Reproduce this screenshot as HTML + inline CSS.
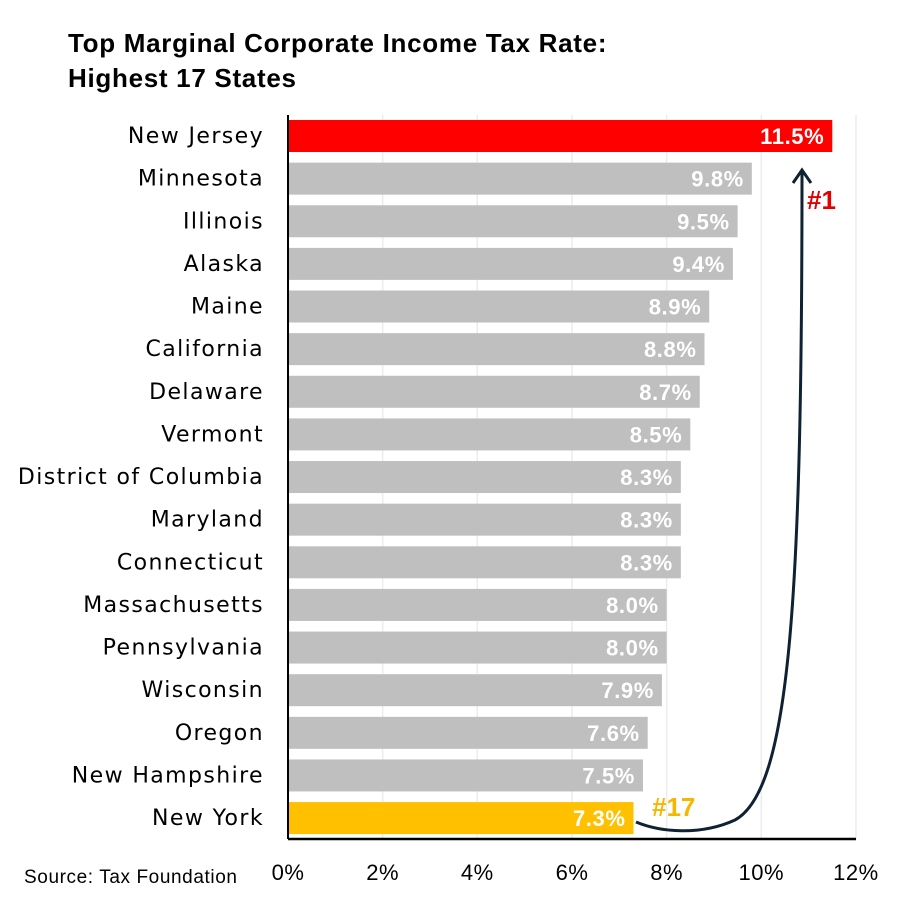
<!DOCTYPE html>
<html><head><meta charset="utf-8"><style>
body{margin:0;background:#fff;}
svg{display:block;font-family:"Liberation Sans",sans-serif;}
</style></head><body>
<svg id="c" width="900" height="900" viewBox="0 0 900 900">
<text x="68" y="52" font-size="26" font-weight="bold" letter-spacing="0.7" fill="#000">Top Marginal Corporate Income Tax Rate:</text>
<text x="68" y="87" font-size="26" font-weight="bold" letter-spacing="0.7" fill="#000">Highest 17 States</text>
<g id="grid"></g><g id="bars"></g><g id="labels"></g><g id="ticks"></g>
<line x1="288" y1="115" x2="288" y2="839" stroke="#000" stroke-width="2"/>
<line x1="288" y1="839" x2="856" y2="839" stroke="#000" stroke-width="2.5"/>
<path d="M636,822 C660,832 700,836 735,820 C790,790 802,600 802,172" fill="none" stroke="#0f2233" stroke-width="3"/>
<path d="M793,183 L802,170 L811,183" fill="none" stroke="#0f2233" stroke-width="3"/>
<text x="807" y="209" font-size="26" font-weight="bold" fill="#e00000">#1</text>
<text x="652" y="816" font-size="26" font-weight="bold" fill="#f5b800">#17</text>
<text x="24" y="883" font-size="19" letter-spacing="0.6" fill="#000">Source: Tax Foundation</text>
</svg>
<script>
const states=["New Jersey","Minnesota","Illinois","Alaska","Maine","California","Delaware","Vermont","District of Columbia","Maryland","Connecticut","Massachusetts","Pennsylvania","Wisconsin","Oregon","New Hampshire","New York"];
const rates=[11.5,9.8,9.5,9.4,8.9,8.8,8.7,8.5,8.3,8.3,8.3,8.0,8.0,7.9,7.6,7.5,7.3];
const tickVals=[0,2,4,6,8,10,12];
const tickLabels=["0%","2%","4%","6%","8%","10%","12%"];
const NS="http://www.w3.org/2000/svg";
const x=v=>288+v*47.33;
const y=i=>120+i*42.63;
function mk(t,a,p){const e=document.createElementNS(NS,t);for(const k in a)e.setAttribute(k,a[k]);document.getElementById(p).appendChild(e);return e;}
tickVals.forEach((v,i)=>{
 if(v>0){const g=mk('line',{x1:x(v),x2:x(v),y1:115,y2:839,stroke:'#ececec','stroke-width':1.5},'grid');
 
 }
 const t=mk('text',{x:x(v),y:880,'text-anchor':'middle','font-size':22,fill:'#000','letter-spacing':0.5},'ticks');
 t.textContent=tickLabels[i];
 
 
});
states.forEach((s,i)=>{
 const col=i===0?'#ff0000':(i===states.length-1?'#ffc000':'#bfbfbf');
 const r=mk('rect',{x:288,y:y(i),width:x(rates[i])-288,height:32,fill:col},'bars');
 
 
 const v=mk('text',{x:x(rates[i])-8,y:y(i)+24,'text-anchor':'end','font-size':22,'font-weight':'bold',fill:'#fff','letter-spacing':0.6},'bars');
 v.textContent=rates[i].toFixed(1)+'%';
 
 
 const l=mk('text',{x:264,y:y(i)+23,'text-anchor':'end','font-size':22,fill:'#000','font-family':'"DejaVu Sans",sans-serif','letter-spacing':1.4},'labels');
 l.textContent=s;
 
 
});
</script>
</body></html>
